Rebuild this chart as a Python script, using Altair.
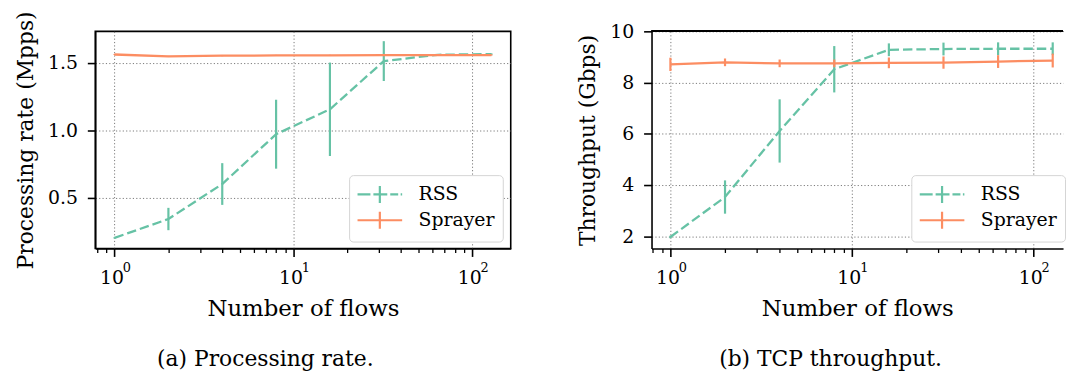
import altair as alt
import pandas as pd

# ---- data ----
flows = [1, 2, 4, 8, 16, 32, 64, 128]
series = ["RSS", "Sprayer"]
colors = ["#66c2a5", "#fc8d62"]

# (a) processing rate, Mpps
rate_rss = [0.20, 0.34, 0.60, 0.97, 1.155, 1.513, 1.56, 1.565]
rate_rss_err = [0.005, 0.083, 0.155, 0.256, 0.347, 0.148, 0.005, 0.005]
rate_spr = [1.562, 1.548, 1.553, 1.555, 1.556, 1.557, 1.558, 1.558]
rate_spr_err = [0.004, 0.004, 0.004, 0.004, 0.004, 0.004, 0.004, 0.004]

# (b) TCP throughput, Gbps
tput_rss = [1.97, 3.53, 6.11, 8.52, 9.28, 9.31, 9.32, 9.32]
tput_rss_err = [0.05, 0.65, 1.235, 0.905, 0.25, 0.25, 0.25, 0.25]
tput_spr = [8.71, 8.79, 8.75, 8.75, 8.77, 8.78, 8.82, 8.86]
tput_spr_err = [0.26, 0.15, 0.15, 0.15, 0.21, 0.24, 0.25, 0.27]

major_ticks = [1, 10, 100]
exponents = ["0", "1", "2"]
minor_ticks = [0.8, 0.9, 2, 3, 4, 5, 6, 7, 8, 9, 20, 30, 40, 50, 60, 70, 80, 90]

FONT = "DejaVu Serif"

# legend glyphs: line with a vertical error tick (dashed for RSS)
path_rss = ("M-1.1,0H0.2M0.5,0H1.9M2.2,0H3.0M3.25,0H3.4"
            "M1.15,-0.85V0.85")
path_spr = "M-1.1,0H3.4M1.15,-0.85V0.85"

exp_expr = ("datum.value == 1 ? '" + exponents[0] + "' : datum.value == 10 ? '"
            + exponents[1] + "' : '" + exponents[2] + "'")


def make_df(v1, e1, v2, e2):
    rows = []
    for name, vals, errs in ((series[0], v1, e1), (series[1], v2, e2)):
        for f, v, e in zip(flows, vals, errs):
            rows.append({"flows": f, "series": name, "value": v,
                         "lo": v - e, "hi": v + e})
    return pd.DataFrame(rows)


def panel(df, xdom, ydom, yvals, yfmt, ytitle, width, caption, cap_dx,
          leg_x, leg_y, full_box):
    cscale = alt.Scale(domain=series, range=colors)
    xscale = alt.Scale(type="log", domain=xdom, nice=False)
    yscale = alt.Scale(domain=ydom, nice=False, zero=False)

    x_main = alt.X(
        "flows:Q", scale=xscale,
        axis=alt.Axis(
            values=major_ticks, orient="bottom",
            labelExpr="'10'", labelOffset=-3, labelPadding=12,
            title="Number of flows", titlePadding=11, grid=True,
        ),
    )
    y_main = alt.Y(
        "value:Q", scale=yscale,
        axis=alt.Axis(values=yvals, format=yfmt, title=ytitle, grid=True),
    )
    x_plain = alt.X("flows:Q", scale=xscale, axis=None)
    y_plain = alt.Y("value:Q", scale=yscale)
    color = alt.Color("series:N", scale=cscale)

    leg = alt.Legend(
        title=None, orient="none", legendX=leg_x, legendY=leg_y,
        symbolSize=400, symbolStrokeWidth=2.2, symbolOpacity=1,
        symbolFillColor="transparent",
        labelFont=FONT, labelFontSize=19, labelColor="black",
        labelOffset=39, rowPadding=-1, padding=8,
        strokeColor="#d4d4d4", cornerRadius=4, fillColor="#ffffff",
    )
    legend_layer = alt.Chart(df).mark_point(opacity=0, filled=False).encode(
        x=x_plain,
        y=y_plain,
        color=alt.Color("series:N", scale=cscale, legend=leg),
        shape=alt.Shape(
            "series:N",
            scale=alt.Scale(domain=series, range=[path_rss, path_spr]),
            legend=leg,
        ),
    )

    line_rss = alt.Chart(df).transform_filter(
        alt.datum.series == series[0]
    ).mark_line(strokeWidth=2.3, strokeDash=[9.5, 4]).encode(
        x=x_main, y=y_main, color=color, order=alt.Order("flows:Q"),
    )
    line_spr = alt.Chart(df).transform_filter(
        alt.datum.series == series[1]
    ).mark_line(strokeWidth=2.3).encode(
        x=x_plain, y=y_plain, color=color, order=alt.Order("flows:Q"),
    )

    bars = alt.Chart(df).mark_rule(strokeWidth=2.2).encode(
        x=x_plain,
        y=alt.Y("lo:Q", scale=yscale),
        y2="hi:Q",
        color=color,
    )

    minor = alt.Chart(pd.DataFrame({"m": minor_ticks})).mark_point(opacity=0).encode(
        x=alt.X(
            "m:Q", scale=xscale,
            axis=alt.Axis(values=minor_ticks, orient="bottom", labels=False,
                          domain=False, grid=False, tickSize=4, tickWidth=1.3,
                          title=None),
        ),
    )

    # exponent labels of the log axis (superscripts)
    sup = alt.Chart(pd.DataFrame({"e": major_ticks})).mark_point(opacity=0).encode(
        x=alt.X(
            "e:Q", scale=xscale,
            axis=alt.Axis(values=major_ticks, orient="bottom", labelExpr=exp_expr,
                          labelFontSize=13, labelOffset=12, labelPadding=13,
                          domain=False, grid=False, ticks=False, title=None),
        ),
    )

    layers = [legend_layer, line_rss, bars, line_spr, minor, sup]
    if not full_box:
        top = alt.Chart(df).mark_rule(color="black", strokeWidth=1.4).encode(
            x=alt.value(0), x2=alt.value(width), y=alt.value(0)
        )
        layers.append(top)

    view = (alt.ViewBackground(stroke="black", strokeWidth=1.6) if full_box
            else alt.ViewBackground(stroke="transparent"))

    return alt.layer(*layers).resolve_axis(x="independent").properties(
        width=width, height=219, view=view,
        title=alt.TitleParams(
            caption, orient="bottom", anchor="middle", frame="group",
            dx=cap_dx, offset=28, font=FONT, fontSize=22,
            fontWeight="normal", color="black",
        ),
    )


left = panel(
    make_df(rate_rss, rate_rss_err, rate_spr, rate_spr_err),
    xdom=[0.78, 164], ydom=[0.121, 1.734], yvals=[0.5, 1.0, 1.5],
    yfmt=".1f", ytitle="Processing rate (Mpps)", width=419,
    caption="(a) Processing rate.", cap_dx=-38,
    leg_x=256, leg_y=145, full_box=True,
)
right = panel(
    make_df(tput_rss, tput_rss_err, tput_spr, tput_spr_err),
    xdom=[0.787, 145.9], ydom=[1.52, 10], yvals=[2, 4, 6, 8, 10],
    yfmt="d", ytitle="Throughput (Gbps)", width=415,
    caption="(b) TCP throughput.", cap_dx=-27,
    leg_x=262, leg_y=145, full_box=False,
)

chart = alt.hconcat(left, right, spacing=65).resolve_legend(
    color="independent", shape="independent"
).properties(
    padding={"left": 5, "top": 0, "right": 0, "bottom": 0},
).configure(
    font=FONT,
).configure_axis(
    labelFont=FONT, labelFontSize=19, labelColor="black",
    titleFont=FONT, titleFontSize=22, titleFontWeight="normal", titleColor="black",
    domainColor="black", domainWidth=1.6,
    tickColor="black", tickWidth=1.6, tickSize=8,
    labelPadding=9, titlePadding=8,
    gridColor="#7a7a7a", gridDash=[1.2, 2.2], gridWidth=1,
).configure_axisX(
    titleFontSize=23,
).configure_axisY(
    labelPadding=10, titlePadding=10,
).configure_view(
    stroke="black", strokeWidth=1.6,
)

chart.save("out.html", embed_options={"renderer": "svg", "actions": False})
